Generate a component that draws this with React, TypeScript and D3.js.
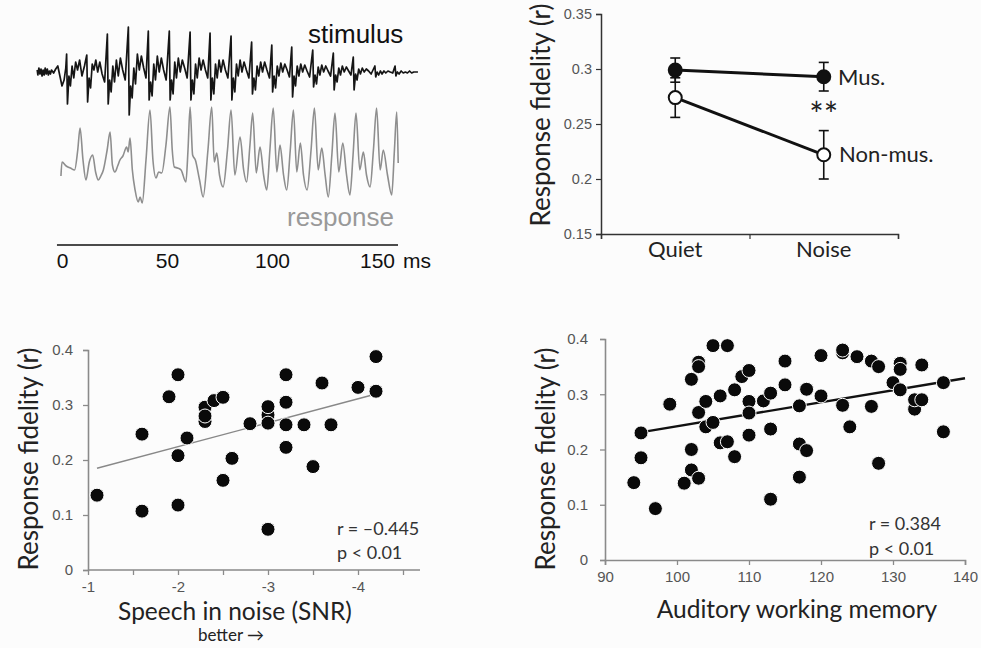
import React, { useEffect, useRef } from "react";
import * as d3 from "d3";

// ---------- Panel A: waveforms (time in ms, amplitude in arbitrary units) ----------
const TIME_TICKS = [0, 50, 100, 150];
const STIMULUS: [number, number][] = [
  [-11.8, 2], [-11.5, -3], [-11, 4], [-10.5, -2], [-10, 3], [-9.5, -4], [-9, 2], [-8.5, -3], [-8, 4], [-7.5, -2],
  [-7, 3], [-6.5, -3], [-6, 1], [-5.5, -2], [-5, 2], [-4, -1], [-3, 3], [-2, 6], [-1, -4], [0, -14], [1, -8], [1.8, 4],
  [2.2, 18], [2.6, -32], [3.3, -4], [4, -14], [4.8, 6], [5.6, -6], [6.5, 10], [7.4, 2], [8.4, 12], [9.5, -4], [10.7, 6],
  [11.8, 17], [12.2, -30], [12.9, -6], [13.6, -16], [14.4, 8], [15.2, 2], [16.1, 12], [17, 0], [18, 10], [19.1, -2], [20.3, -10],
  [21.6, 38], [22, -32], [22.7, -8], [23.4, -20], [24.2, 6], [25, -10], [25.9, 12], [26.8, -4], [27.8, 14], [28.9, 2], [30.1, -8],
  [31.6, 45], [32, -43], [32.7, -14], [33.4, -26], [34.2, 4], [35, -12], [35.9, 18], [36.8, 2], [37.8, 16], [38.9, 4], [40, -6],
  [41.1, 41], [41.5, -28], [42.2, -10], [42.9, -24], [43.7, 8], [44.5, -8], [45.4, 16], [46.3, 0], [47.3, 14], [48.4, 2], [49.6, -8],
  [51.1, 41], [51.5, -28], [52.2, -8], [52.9, -22], [53.7, 10], [54.5, -6], [55.4, 14], [56.3, 0], [57.3, 12], [58.4, 4], [59.6, -6],
  [61, 40], [61.4, -28], [62.1, -8], [62.8, -22], [63.6, 8], [64.4, -6], [65.3, 14], [66.2, 2], [67.2, 12], [68.3, 2], [69.4, -6],
  [70.5, 39], [70.9, -28], [71.6, -6], [72.3, -22], [73.1, 8], [73.9, -6], [74.8, 12], [75.7, 0], [76.7, 12], [77.8, 2], [79, -6],
  [80.5, 36], [80.9, -28], [81.6, -6], [82.3, -20], [83.1, 8], [83.9, -4], [84.8, 12], [85.7, 0], [86.7, 10], [87.8, 2], [89, -6],
  [90.3, 30], [90.7, -22], [91.4, -6], [92.1, -18], [92.9, 6], [93.7, -4], [94.6, 10], [95.5, 0], [96.5, 10], [97.6, 2], [98.8, -6],
  [99.9, 27], [100.3, -20], [101, -4], [101.7, -16], [102.5, 6], [103.3, -4], [104.2, 9], [105.1, 0], [106.1, 8], [107.2, 2], [108.3, -5],
  [109.4, 25], [109.8, -25], [110.5, -4], [111.2, -14], [112, 6], [112.8, -4], [113.7, 8], [114.6, 0], [115.6, 7], [116.7, 1], [117.9, -5],
  [119.4, 22], [119.8, -15], [120.5, -3], [121.2, -12], [122, 5], [122.8, -3], [123.7, 7], [124.6, 0], [125.6, 6], [126.7, 1], [127.9, -4],
  [129.2, 19], [129.6, -18], [130.3, -3], [131, -10], [131.8, 4], [132.6, -3], [133.5, 6], [134.4, 0], [135.4, 5], [136.5, 1], [137.6, -3],
  [138.7, 15], [139.1, -18], [139.8, -2], [140.5, -8], [141.3, 3], [142.1, -2], [143, 4], [143.9, 0], [144.9, 3], [146, 1], [147.2, -2],
  [149, 6], [149.4, -5], [150.1, 0], [150.8, -3], [151.6, 1], [152.4, -2], [153.3, 1], [154.2, -1], [155.2, 1], [156.3, 0], [157.5, -1],
  [158.6, 6], [159, -4], [159.7, 0], [160.5, -2], [161.5, 1], [162.5, -1], [163.5, 0], [164.5, -1], [165.5, 1], [166.5, -1], [167.5, 0], [169.5, 0],
];
const RESPONSE: [number, number][] = [
  [-0.5, -6], [0, 8], [2, 4], [4, 2], [6, 0], [7.5, 20], [8.6, 42], [10, 10], [11.4, -10], [13, 8], [14.6, 15], [16, -2],
  [17.3, -10], [18.5, -6], [19.7, 0], [21.5, 20], [22.9, 38], [24, 5], [25.2, -2], [26.5, 4], [27.6, 10], [29, 14],
  [30.8, 23], [31.5, 18], [32.4, 32], [33.5, 0], [34.8, -20], [36.3, -32], [37.2, -27], [38.2, -33], [40, 10],
  [41.9, 60], [43.3, 10], [44.8, -8], [46, -2], [47.5, -3], [49.5, 25], [51.4, 63], [52.5, 20], [53.5, 3], [55, 2],
  [56.7, 0], [59, -12], [60, 20], [61, 63], [62.2, 15], [63.5, 10], [65.5, -10], [67.2, -27], [69.5, 20], [71.3, 63],
  [72.5, 8], [73.7, 17], [75, -5], [76.7, -17], [78.8, 20], [80.5, 60], [82.3, -5], [84.8, 33], [86.5, 0], [87.9, -12],
  [89.5, 25], [90.8, 57], [92.5, -3], [94.3, 23], [96, -5], [97.5, -20], [99, 20], [100.6, 62], [102.3, -2], [103.8, 25],
  [105.5, -5], [107, -20], [108.7, 20], [110.2, 60], [111.8, -2], [113.5, 27], [115, -5], [116.7, -20], [118.6, 20],
  [120.2, 62], [122, 0], [123.7, 22], [125.3, -5], [126.8, -27], [128.5, 15], [130, 57], [131.8, -2], [133.7, 27],
  [135.5, -5], [137.1, -25], [138.6, 15], [140, 57], [141.8, 0], [143.5, 18], [145, -5], [146.7, -17], [148.3, 20],
  [149.8, 62], [151.5, 0], [153, 20], [155, -5], [157, -25], [158.3, 20], [159.4, 58], [160.1, 7],
];

// ---------- Panel B: response fidelity by condition ----------
const CONDITIONS = ["Quiet", "Noise"];
const MUS_MEAN = [0.299, 0.293];
const MUS_ERR = [0.011, 0.013];
const NONMUS_MEAN = [0.274, 0.222];
const NONMUS_ERR = [0.018, 0.022];
const FIDELITY_TICKS_B = [0.15, 0.2, 0.25, 0.3, 0.35];

// ---------- Panel C: speech in noise ----------
const SIN_SNR = [-3.0, -2.3, -2.3, -1.1, -1.6, -1.6, -1.9, -2.0, -2.0, -2.0, -2.1, -2.3, -2.4, -2.5, -2.5, -2.6, -2.8,
  -3.0, -3.0, -3.0, -3.2, -3.2, -3.2, -3.2, -3.4, -3.5, -3.6, -3.7, -4.0, -4.2, -4.2];
const SIN_FID = [0.282, 0.27, 0.296, 0.136, 0.247, 0.107, 0.315, 0.355, 0.208, 0.118, 0.24, 0.28, 0.308, 0.314, 0.163, 0.203, 0.266,
  0.297, 0.267, 0.074, 0.355, 0.305, 0.264, 0.223, 0.264, 0.188, 0.34, 0.264, 0.332, 0.325, 0.388];
const SIN_FIT: [number, number][] = [[-1.1, 0.185], [-4.2, 0.32]];
const SIN_TICKS = [-1, -1.5, -2, -2.5, -3, -3.5, -4, -4.5];
const FID_TICKS = [0, 0.1, 0.2, 0.3, 0.4];

// ---------- Panel D: auditory working memory ----------
const AWM_SCORE = [94, 95, 95, 97, 99, 101, 102, 102, 102, 103, 103, 103, 103, 104, 104, 105, 105, 106, 106, 107, 107, 108, 108,
  109, 110, 110, 110, 110, 112, 113, 113, 113, 115, 115, 117, 117, 117, 118, 118, 120, 120, 123, 123, 123, 124, 125, 127, 127,
  128, 128, 130, 131, 131, 131, 133, 133, 134, 134, 137, 137];
const AWM_FID = [0.14, 0.185, 0.23, 0.093, 0.282, 0.139, 0.327, 0.2, 0.163, 0.148, 0.358, 0.35, 0.267, 0.241, 0.287, 0.249, 0.388,
  0.297, 0.212, 0.214, 0.388, 0.187, 0.308, 0.332, 0.343, 0.287, 0.266, 0.226, 0.288, 0.302, 0.237, 0.11, 0.317, 0.36, 0.279,
  0.21, 0.15, 0.198, 0.309, 0.297, 0.37, 0.28, 0.375, 0.38, 0.241, 0.368, 0.278, 0.36, 0.175, 0.35, 0.321, 0.356, 0.345, 0.308,
  0.273, 0.29, 0.353, 0.29, 0.321, 0.232];
const AWM_FIT: [number, number][] = [[94.5, 0.23], [140, 0.329]];
const AWM_TICKS = [90, 100, 110, 120, 130, 140];

const SANS = "Lato, 'Open Sans', sans-serif";
const ARIAL = "'Liberation Sans', Arial, sans-serif";

export default function App() {
  const ref = useRef<SVGSVGElement>(null);

  useEffect(() => {
    const svg = d3.select(ref.current);
    svg.selectAll("*").remove();
    svg.append("rect").attr("width", 981).attr("height", 648).attr("fill", "#fcfcfc");

    // ===== Panel A =====
    const tX = d3.scaleLinear().domain([0, 150]).range([62, 377]);
    const sY = d3.scaleLinear().domain([-45, 45]).range([117, 27]);
    const rY = d3.scaleLinear().domain([-40, 65]).range([210, 105]);
    svg.append("path")
      .attr("d", d3.line<[number, number]>().x(d => tX(d[0])).y(d => sY(d[1]))(STIMULUS))
      .attr("fill", "none").attr("stroke", "#151515").attr("stroke-width", 1.7).attr("stroke-linejoin", "round");
    svg.append("path")
      .attr("d", d3.line<[number, number]>().x(d => tX(d[0])).y(d => rY(d[1])).curve(d3.curveMonotoneX)(RESPONSE))
      .attr("fill", "none").attr("stroke", "#8e8e8e").attr("stroke-width", 1.6).attr("stroke-linejoin", "round");
    const tAxis = svg.append("g").attr("transform", "translate(0,245)")
      .call(d3.axisBottom(tX).tickValues(TIME_TICKS).tickSize(0).tickPadding(8).tickFormat(d => String(d)));
    tAxis.select(".domain").attr("d", `M${tX(-2.4)},0H${tX(160)}`).attr("stroke", "#111").attr("stroke-width", 1.5);
    tAxis.selectAll("text").attr("font-family", ARIAL).attr("font-size", 21).attr("fill", "#111").attr("dy", "0.71em");
    svg.append("text").attr("x", 403).attr("y", 268).text("ms")
      .attr("font-family", ARIAL).attr("font-size", 21).attr("fill", "#111");
    svg.append("text").attr("x", 308).attr("y", 43).text("stimulus")
      .attr("font-family", ARIAL).attr("font-size", 26).attr("fill", "#111");
    svg.append("text").attr("x", 287).attr("y", 226).text("response")
      .attr("font-family", ARIAL).attr("font-size", 26).attr("fill", "#999");

    // ===== Panel B =====
    const bX = d3.scaleBand<string>().domain(CONDITIONS).range([601, 898]).padding(0);
    const bTick = d3.scaleLinear().domain([0, CONDITIONS.length]).range([601, 898]);
    const bY = d3.scaleLinear().domain([0.15, 0.35]).range([234, 14]);
    const cx = (c: string) => (bX(c) as number) + bX.bandwidth() / 2;

    const bYAxis = svg.append("g").attr("transform", "translate(601,0)")
      .call(d3.axisLeft(bY).tickValues(FIDELITY_TICKS_B).tickSize(5).tickPadding(4).tickFormat(d => String(+(+d).toFixed(2))));
    bYAxis.select(".domain").attr("stroke", "#333").attr("stroke-width", 1.5);
    bYAxis.selectAll("line").attr("stroke", "#333").attr("stroke-width", 1.2);
    bYAxis.selectAll("text").attr("font-family", ARIAL).attr("font-size", 14.5).attr("fill", "#555");

    const bTicks = svg.append("g").attr("transform", "translate(0,234)")
      .call(d3.axisBottom(bTick).tickValues([0, 1, 2]).tickSize(5).tickFormat(() => ""));
    bTicks.select(".domain").attr("stroke", "#333").attr("stroke-width", 1.5);
    bTicks.selectAll("line").attr("stroke", "#333").attr("stroke-width", 1.2);
    const bXAxis = svg.append("g").attr("transform", "translate(0,234)")
      .call(d3.axisBottom(bX).tickSize(0).tickPadding(7));
    bXAxis.select(".domain").remove();
    bXAxis.selectAll("text").attr("font-family", SANS).attr("font-size", 22).attr("fill", "#222");

    const groups = [
      { mean: MUS_MEAN, err: MUS_ERR, fill: "#111" },
      { mean: NONMUS_MEAN, err: NONMUS_ERR, fill: "#fff" },
    ];
    groups.forEach(g => {
      CONDITIONS.forEach((c, i) => {
        const x = cx(c);
        svg.append("line").attr("x1", x).attr("x2", x).attr("y1", bY(g.mean[i] + g.err[i])).attr("y2", bY(g.mean[i] - g.err[i]))
          .attr("stroke", "#111").attr("stroke-width", 1.6);
        [g.mean[i] + g.err[i], g.mean[i] - g.err[i]].forEach(v => {
          svg.append("line").attr("x1", x - 5).attr("x2", x + 5).attr("y1", bY(v)).attr("y2", bY(v))
            .attr("stroke", "#111").attr("stroke-width", 1.6);
        });
      });
    });
    groups.forEach(g => {
      svg.append("path")
        .attr("d", d3.line<number>().x((_, i) => cx(CONDITIONS[i])).y(d => bY(d))(g.mean))
        .attr("fill", "none").attr("stroke", "#111").attr("stroke-width", 3);
    });
    groups.forEach(g => {
      CONDITIONS.forEach((c, i) => {
        svg.append("circle").attr("cx", cx(c)).attr("cy", bY(g.mean[i])).attr("r", 6.5)
          .attr("fill", g.fill).attr("stroke", "#111").attr("stroke-width", 2);
      });
    });
    svg.append("text").attr("x", 838).attr("y", 85).text("Mus.")
      .attr("font-family", SANS).attr("font-size", 22).attr("fill", "#222");
    svg.append("text").attr("x", 839).attr("y", 162).text("Non-mus.")
      .attr("font-family", SANS).attr("font-size", 22).attr("fill", "#222");
    svg.append("text").attr("x", cx("Noise")).attr("y", 127).attr("text-anchor", "middle").text("**")
      .attr("font-family", SANS).attr("font-size", 34).attr("fill", "#222");
    svg.append("text").attr("transform", "translate(550,115) rotate(-90)").attr("text-anchor", "middle")
      .text("Response fidelity (r)").attr("font-family", SANS).attr("font-size", 26).attr("fill", "#222");

    const fidFmt = (d: any) => (+d === 0 ? "0" : d3.format(".1f")(+d));

    // ===== Panel C =====
    const cX = d3.scaleLinear().domain([-1, -4.5]).range([88, 403]);
    const cY = d3.scaleLinear().domain([0, 0.4]).range([570, 350]);
    const cYAxis = svg.append("g").attr("transform", "translate(88,0)")
      .call(d3.axisLeft(cY).tickValues(FID_TICKS).tickSize(5).tickPadding(10).tickFormat(fidFmt));
    const cXAxis = svg.append("g").attr("transform", "translate(0,570)")
      .call(d3.axisBottom(cX).tickValues(SIN_TICKS).tickSize(5).tickPadding(6)
        .tickFormat(d => (Number.isInteger(+d) ? String(d) : "")));
    cXAxis.select(".domain").attr("d", "M88,0H420");
    [cYAxis, cXAxis].forEach(a => {
      a.select(".domain").attr("stroke", "#8a8a8a").attr("stroke-width", 1.6);
      a.selectAll("line").attr("stroke", "#8a8a8a").attr("stroke-width", 1.3);
      a.selectAll("text").attr("font-family", ARIAL).attr("font-size", 15).attr("fill", "#555");
    });
    svg.append("path")
      .attr("d", d3.line<[number, number]>().x(d => cX(d[0])).y(d => cY(d[1]))(SIN_FIT))
      .attr("stroke", "#888").attr("stroke-width", 1.3).attr("fill", "none");
    SIN_SNR.forEach((s, i) => {
      svg.append("circle").attr("cx", cX(s)).attr("cy", cY(SIN_FID[i])).attr("r", 7)
        .attr("fill", "#0a0a0a").attr("stroke", "#fff").attr("stroke-width", 1);
    });
    svg.append("text").attr("x", 337).attr("y", 535).text("r = \u20130.445")
      .attr("font-family", SANS).attr("font-size", 18).attr("fill", "#333");
    svg.append("text").attr("x", 337).attr("y", 559).text("p < 0.01")
      .attr("font-family", SANS).attr("font-size", 18).attr("fill", "#333");
    svg.append("text").attr("x", 235).attr("y", 620).attr("text-anchor", "middle").text("Speech in noise (SNR)")
      .attr("font-family", SANS).attr("font-size", 24.5).attr("fill", "#222");
    svg.append("text").attr("x", 231).attr("y", 641).attr("text-anchor", "middle").text("better \u2192")
      .attr("font-family", SANS).attr("font-size", 17).attr("fill", "#222");
    svg.append("text").attr("transform", "translate(38,459) rotate(-90)").attr("text-anchor", "middle")
      .text("Response fidelity (r)").attr("font-family", SANS).attr("font-size", 26).attr("fill", "#222");

    // ===== Panel D =====
    const dX = d3.scaleLinear().domain([90, 140]).range([605, 965]);
    const dY = d3.scaleLinear().domain([0, 0.4]).range([560, 339]);
    const dYAxis = svg.append("g").attr("transform", "translate(605,0)")
      .call(d3.axisLeft(dY).tickValues(FID_TICKS).tickSize(5).tickPadding(12).tickFormat(fidFmt));
    const dXAxis = svg.append("g").attr("transform", "translate(0,560)")
      .call(d3.axisBottom(dX).tickValues(AWM_TICKS).tickSize(5).tickPadding(6));
    [dYAxis, dXAxis].forEach(a => {
      a.select(".domain").attr("stroke", "#8a8a8a").attr("stroke-width", 1.6);
      a.selectAll("line").attr("stroke", "#8a8a8a").attr("stroke-width", 1.3);
      a.selectAll("text").attr("font-family", ARIAL).attr("font-size", 15).attr("fill", "#555");
    });
    svg.append("path")
      .attr("d", d3.line<[number, number]>().x(d => dX(d[0])).y(d => dY(d[1]))(AWM_FIT))
      .attr("stroke", "#111").attr("stroke-width", 2.4).attr("fill", "none");
    AWM_SCORE.forEach((s, i) => {
      svg.append("circle").attr("cx", dX(s)).attr("cy", dY(AWM_FID[i])).attr("r", 7)
        .attr("fill", "#0a0a0a").attr("stroke", "#fff").attr("stroke-width", 1);
    });
    svg.append("text").attr("x", 869).attr("y", 530).text("r = 0.384")
      .attr("font-family", SANS).attr("font-size", 18).attr("fill", "#333");
    svg.append("text").attr("x", 869).attr("y", 555).text("p < 0.01")
      .attr("font-family", SANS).attr("font-size", 18).attr("fill", "#333");
    svg.append("text").attr("x", 797).attr("y", 618).attr("text-anchor", "middle").text("Auditory working memory")
      .attr("font-family", SANS).attr("font-size", 24.5).attr("fill", "#222");
    svg.append("text").attr("transform", "translate(555,459) rotate(-90)").attr("text-anchor", "middle")
      .text("Response fidelity (r)").attr("font-family", SANS).attr("font-size", 26).attr("fill", "#222");
  }, []);

  return (
    <svg ref={ref} width={981} height={648}
      style={{ position: "absolute", left: 0, top: 0, display: "block" }} />
  );
}
